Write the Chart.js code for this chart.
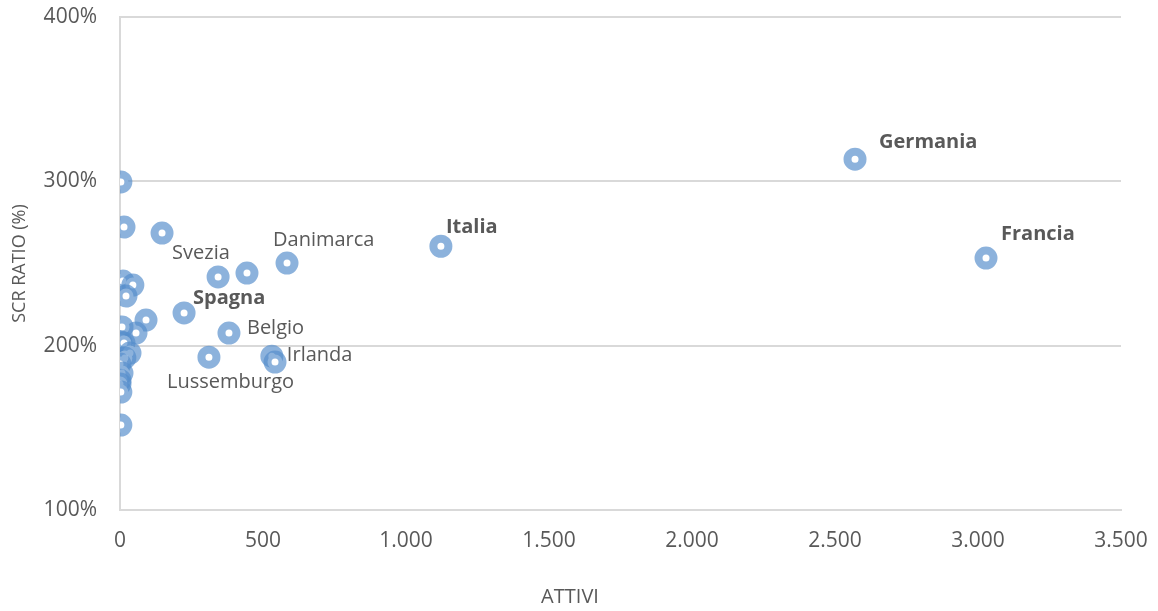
<!DOCTYPE html>
<html>
<head>
<meta charset="utf-8">
<script src="https://cdn.jsdelivr.net/npm/chart.js@4.4.8/dist/chart.umd.min.js"></script>
<style>
  html, body { margin: 0; padding: 0; background: #fff; }
  #wrap { width: 1158px; height: 611px; }
</style>
</head>
<body>
<div id="wrap"><canvas id="chart"></canvas></div>
<script>
/*  Data  */

const paesi = [
    'Germania', 'Francia', 'Italia', 'Danimarca', '', 'Svezia', '',
    'Spagna', 'Belgio', 'Lussemburgo', 'Irlanda', '',
    '', '', '', '', '', '', '', '', '', '', '', '', '', '', '', '', '', ''
];
const attivi = [
    2570, 3028, 1122, 584, 444, 343, 147,
    224, 381, 311, 531, 542,
    3, 14, 10, 45, 21, 91, 56, 7, 3, 14, 35, 17, 0, 7, 0, 0, 3, 3
];
const scrRatio = [
    313.5, 253.3, 260.5, 250.3, 244.2, 241.8, 268.5,
    219.9, 207.7, 193, 193.6, 190,
    299.6, 272.2, 239.3, 236.9, 230.2, 215.6, 207.7, 211.4, 202.2, 201.6, 195.5, 192.5, 188.8, 183.3, 179, 176.7, 171.8, 151.7
];

const xTicks = [0, 500, 1000, 1500, 2000, 2500, 3000, 3500];
const yTicks = [100, 200, 300, 400];


/*  Styles  */

const FONT = '"Open Sans", "DejaVu Sans", sans-serif';
const TEXT = '#595959';
const GRID = '#d9d9d9';
const BOLD = ['Germania', 'Francia', 'Italia', 'Spagna'];

// where each label sits relative to its point (left edge, vertical middle)
const LABEL_OFFSET = {
    Germania: [24, -17],
    Francia: [15, -24],
    Italia: [5, -19],
    Danimarca: [-14, -23],
    Svezia: [-46, -24],
    Spagna: [9, -15],
    Belgio: [18, -5],
    Irlanda: [15, -1],
    Lussemburgo: [-42, 25]
};

function fmtThousands(v) {
    return String(v).replace(/\B(?=(\d{3})+(?!\d))/g, '.');
}


/*  Plugins  */

const pointLabels = {
    id: 'pointLabels',
    afterDatasetsDraw(chart) {
        const ctx = chart.ctx;
        const meta = chart.getDatasetMeta(0);
        ctx.save();
        ctx.fillStyle = TEXT;
        ctx.textAlign = 'left';
        ctx.textBaseline = 'middle';
        paesi.forEach((name, i) => {
            if (!name) return;
            const pt = meta.data[i];
            const off = LABEL_OFFSET[name] || [12, -12];
            ctx.font = (BOLD.includes(name) ? 'bold ' : '') + '20px ' + FONT;
            ctx.fillText(name, pt.x + off[0], pt.y + off[1]);
        });
        ctx.restore();
    }
};

const xTitle = {
    id: 'xTitle',
    afterDraw(chart) {
        const ctx = chart.ctx;
        ctx.save();
        ctx.fillStyle = TEXT;
        ctx.font = '20px ' + FONT;
        ctx.textAlign = 'center';
        ctx.textBaseline = 'middle';
        ctx.fillText('ATTIVI', chart.width / 2 - 9, chart.height - 14);
        ctx.restore();
    }
};


/*  Chart  */

const points = attivi.map((x, i) => ({ x: x, y: scrRatio[i] }));

new Chart(document.getElementById('chart'), {
    type: 'scatter',
    data: {
        datasets: [{
            label: 'SCR ratio',
            data: points,
            pointRadius: 7.5,
            pointHoverRadius: 7.5,
            pointBorderWidth: 8,
            pointHoverBorderWidth: 8,
            pointBackgroundColor: '#ffffff',
            pointBorderColor: 'rgba(86, 141, 204, 0.68)'
        }]
    },
    options: {
        responsive: true,
        maintainAspectRatio: false,
        animation: false,
        layout: { padding: { top: 17, right: 37, bottom: 0, left: 0 } },
        plugins: {
            legend: { display: false },
            tooltip: { enabled: false }
        },
        scales: {
            x: {
                type: 'linear',
                min: 0,
                max: 3500,
                afterBuildTicks: (scale) => { scale.ticks = xTicks.map(v => ({ value: v })); },
                afterFit: (scale) => {
                    scale.height = 101;
                    scale.paddingLeft = 0;
                    scale.paddingRight = 0;
                },
                grid: { display: false, drawTicks: false },
                border: { display: true, color: GRID, width: 2 },
                ticks: {
                    padding: 18,
                    color: TEXT,
                    font: { family: FONT, size: 21 },
                    callback: (v) => fmtThousands(v)
                }
            },
            y: {
                type: 'linear',
                min: 100,
                max: 400,
                afterBuildTicks: (scale) => { scale.ticks = yTicks.map(v => ({ value: v })); },
                afterFit: (scale) => {
                    scale.width = 120;
                    scale.paddingTop = 0;
                    scale.paddingBottom = 0;
                },
                grid: { color: GRID, lineWidth: 2, drawTicks: false },
                border: { display: true, color: GRID, width: 2 },
                ticks: {
                    padding: 23,
                    color: TEXT,
                    font: { family: FONT, size: 21 },
                    callback: (v) => v + '%'
                },
                title: {
                    display: true,
                    text: 'SCR RATIO (%)',
                    color: TEXT,
                    font: { family: FONT, size: 18 },
                    padding: { top: 9, bottom: 0 }
                }
            }
        }
    },
    plugins: [pointLabels, xTitle]
});
</script>
</body>
</html>
